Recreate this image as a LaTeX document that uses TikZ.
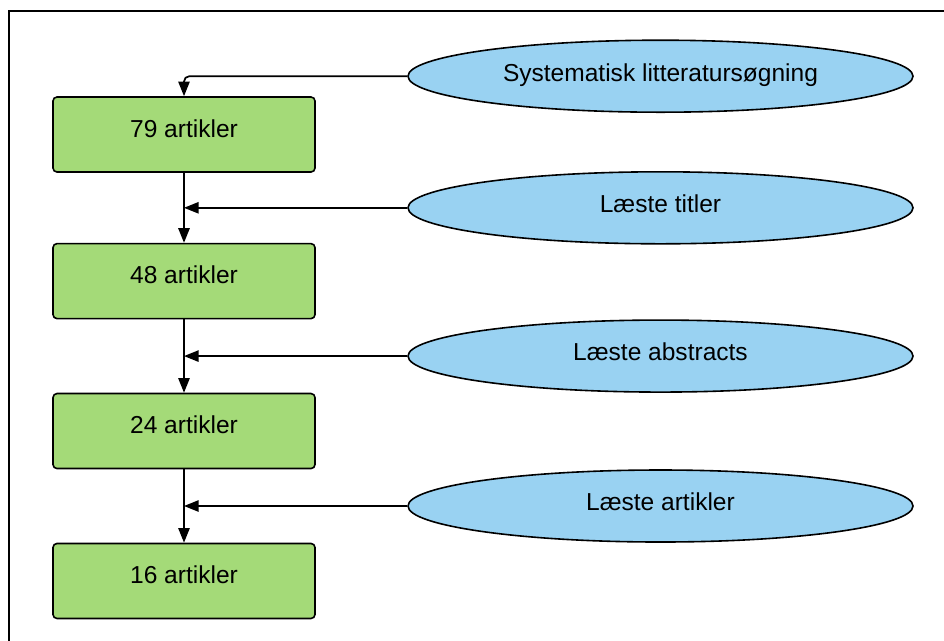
\documentclass[tikz,border=0pt]{standalone}
\usepackage{fontspec}
\setmainfont{Liberation Sans}
\usepackage{xcolor}
\usepackage{tikz}
\usetikzlibrary{positioning, calc, shapes.geometric, arrows.meta}
\definecolor{boxGreen}{RGB}{164,218,120}
\definecolor{ovalBlue}{RGB}{153,210,242}
\tikzset{
    stepbox/.style={
        rectangle,
        draw,
        line width=1.2pt,
        rounded corners=3pt,
        fill=boxGreen,
        minimum width=196.5pt,
        minimum height=56.25pt,
        text height=0.72em,
        text depth=0.3em,
        font=\fontsize{18.4}{22}\selectfont
    },
    source/.style={
        ellipse,
        draw,
        line width=1.2pt,
        fill=ovalBlue,
        inner sep=0pt,
        minimum width=378.75pt,
        minimum height=54pt,
        text height=0.72em,
        text depth=0pt,
        font=\fontsize{18.4}{22}\selectfont
    },
    flow/.style={
        -{Triangle[length=11pt, width=8.5pt]},
        line width=1.3pt
    }
}

\begin{document}
\begin{tikzpicture}[x=0.75pt, y=-0.75pt]
    \useasboundingbox (0,0) rectangle (944,640);
    % ramme
    \draw[line width=1.6pt] (9,11) rectangle (1000,700);

    % antal artikler
    \node[stepbox] (A) at (184,134.5) {79 artikler};
    \node[stepbox, below=52.5pt of A] (B) {48 artikler};
    \node[stepbox, below=55pt of B] (C) {24 artikler};
    \node[stepbox, below=55pt of C] (D) {16 artikler};

    % midtpunkter mellem boksene
    \coordinate (AB) at ($(A.south)!0.5!(B.north)$);
    \coordinate (BC) at ($(B.south)!0.5!(C.north)$);
    \coordinate (CD) at ($(C.south)!0.5!(D.north)$);

    % trin i soegningen
    \node[source] (search) at ($(A.north)+(476.5,-20)$) {Systematisk litteratursøgning};
    \node[source] (titles) at ($(AB)+(476.5,0)$) {Læste titler};
    \node[source] (abstracts) at ($(BC)+(476.5,0)$) {Læste abstracts};
    \node[source] (articles) at ($(CD)+(476.5,0)$) {Læste artikler};

    % pile
    \draw[flow, rounded corners=4pt] (search.west) -| (A.north);
    \draw[flow] (A) -- (B);
    \draw[flow] (B) -- (C);
    \draw[flow] (C) -- (D);
    \draw[flow] (titles.west) -- (AB);
    \draw[flow] (abstracts.west) -- (BC);
    \draw[flow] (articles.west) -- (CD);
\end{tikzpicture}
\end{document}
